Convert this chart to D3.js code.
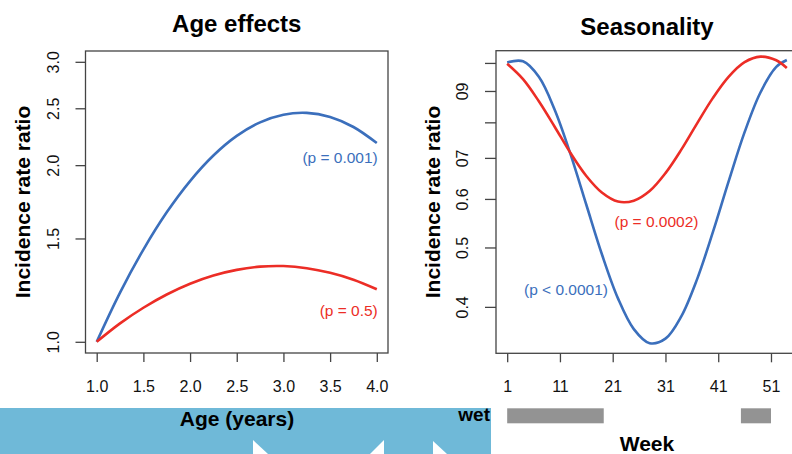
<!DOCTYPE html>
<html><head><meta charset="utf-8">
<script src="https://cdn.jsdelivr.net/npm/d3@7"></script>
<style>
body{margin:0;background:#fff;}
svg{display:block;font-family:"Liberation Sans",Arial,Helvetica,sans-serif;}
</style></head>
<body>
<svg id="chart" width="792" height="454"></svg>
<script>
// ---- data ----
const ageYears = [1.0,1.25,1.5,1.75,2.0,2.25,2.5,2.75,3.0,3.25,3.5,3.75,4.0];
const ageIRR_blue = [1.000,1.213,1.436,1.662,1.879,2.077,2.243,2.366,2.438,2.455,2.416,2.323,2.181];
const ageIRR_red  = [1.000,1.075,1.143,1.204,1.256,1.297,1.326,1.343,1.346,1.335,1.311,1.276,1.229];
const ageXTicks = [1.0,1.5,2.0,2.5,3.0,3.5,4.0];
const ageXTickLabels = ["1.0","1.5","2.0","2.5","3.0","3.5","4.0"];
const ageYTicks = [1.0,1.5,2.0,2.5,3.0];
const ageYTickLabels = ["1.0","1.5","2.0","2.5","3.0"];

const weeks = [1,4,7,10,13,16,19,22,25,28,31,34,37,40,43,46,49,52,54];
const seasIRR_blue = [1.002,1.006,0.949,0.839,0.710,0.587,0.486,0.413,0.368,0.349,0.355,0.386,0.444,0.530,0.642,0.771,0.895,0.985,1.011];
const seasIRR_red  = [0.997,0.941,0.866,0.787,0.713,0.654,0.614,0.594,0.596,0.618,0.661,0.722,0.797,0.877,0.950,1.003,1.024,1.010,0.981];
const weekXTicks = [1,11,21,31,41,51];
const weekXTickLabels = ["1","11","21","31","41","51"];
const seasYTicks = [0.4,0.5,0.6,0.7,0.8,0.9,1.0];
const seasYTickLabels = ["0.4","0.5","0.6","07","","09",""];
const wetSeasons = [[1,19.3],[45.3,51]];

const titles = ["Age effects","Seasonality"];
const yLabel = "Incidence rate ratio";
const pLabelsAge = ["(p = 0.001)","(p = 0.5)"];
const pLabelsSeas = ["(p < 0.0001)","(p = 0.0002)"];

// ---- styling ----
const BLUE = "#3b6fbc", RED = "#ec2d26", AXIS = "#444";
const svg = d3.select("#chart");

// bottom decorative band
svg.append("rect").attr("x",0).attr("y",408).attr("width",491).attr("height",46).attr("fill","#6fb9d8");
svg.append("path").attr("d","M253,440 L268,454 L253,454 Z").attr("fill","#fff");
svg.append("path").attr("d","M384,440 L384,454 L370,454 Z").attr("fill","#fff");
svg.append("path").attr("d","M433,441 L447,454 L433,454 Z").attr("fill","#fff");

function panel(opts){
  const g = svg.append("g");
  const x = opts.x, y = opts.y;
  const [x0,x1] = x.range(), [y0,y1] = y.range();
  const ax = g.append("g").attr("transform",`translate(0,${y0})`)
    .call(d3.axisBottom(x).tickValues(opts.xTicks).tickFormat((d,i)=>opts.xLabels[i]).tickSize(9).tickSizeOuter(0));
  ax.select(".domain").remove();
  ax.selectAll("line").attr("stroke",AXIS).attr("stroke-width",1.3);
  ax.selectAll("text").attr("y",33).attr("dy","0.35em").attr("font-size",16).attr("fill","#111")
    .attr("font-family","Liberation Sans, Arial, sans-serif");
  const ay = g.append("g").attr("transform",`translate(${x0},0)`)
    .call(d3.axisLeft(y).tickValues(opts.yTicks).tickFormat((d,i)=>opts.yLabels[i]).tickSize(opts.yTickLen).tickSizeOuter(0));
  ay.select(".domain").remove();
  ay.selectAll("line").attr("stroke",AXIS).attr("stroke-width",1.3);
  ay.selectAll("text").attr("x",0).attr("y",-opts.yLabOff).attr("dy",0).attr("dominant-baseline","central")
    .attr("text-anchor","middle").attr("transform","rotate(-90)").attr("font-size",16).attr("fill","#111")
    .attr("font-family","Liberation Sans, Arial, sans-serif");
  g.append("rect").attr("x",x0).attr("y",y1).attr("width",x1-x0).attr("height",y0-y1)
    .attr("fill","none").attr("stroke",AXIS).attr("stroke-width",1.3);
  const cid = "clip"+opts.id;
  svg.append("clipPath").attr("id",cid).append("rect").attr("x",x0).attr("y",y1).attr("width",x1-x0).attr("height",y0-y1);
  const line = d3.line().x(d=>x(d[0])).y(d=>y(d[1])).curve(d3.curveCatmullRom.alpha(0.5));
  opts.series.forEach(s=>{
    g.append("path").attr("d",line(opts.xs.map((v,i)=>[v,s.vals[i]])))
      .attr("fill","none").attr("stroke",s.color).attr("stroke-width",2.6).attr("clip-path",`url(#${cid})`);
  });
  g.append("text").attr("x",(x0+x1)/2).attr("y",opts.titleY).attr("text-anchor","middle")
    .attr("font-size",24).attr("font-weight","bold").attr("fill","#000").text(opts.title);
  g.append("text").attr("transform",`translate(${opts.yLabX},${(y0+y1)/2}) rotate(-90)`)
    .attr("text-anchor","middle").attr("dominant-baseline","central")
    .attr("font-size",21).attr("font-weight","bold").attr("fill","#000").text(yLabel);
  return g;
}

// Age panel
const xAge = d3.scaleLinear().domain([0.88,4.12]).range([85.5,388]);
const yAge = d3.scaleLog().domain([0.957,3.13]).range([353,51]);
const gA = panel({id:"A",x:xAge,y:yAge,xTicks:ageXTicks,xLabels:ageXTickLabels,yTicks:ageYTicks,yLabels:ageYTickLabels,
  yTickLen:10,yLabOff:32.5,xs:ageYears,series:[{vals:ageIRR_blue,color:BLUE},{vals:ageIRR_red,color:RED}],
  title:titles[0],titleY:32,yLabX:22});
gA.append("text").attr("x",xAge(4.0)+1).attr("y",163).attr("text-anchor","end").attr("font-size",15.5).attr("fill",BLUE).text(pLabelsAge[0]);
gA.append("text").attr("x",xAge(4.0)+1).attr("y",316).attr("text-anchor","end").attr("font-size",15.5).attr("fill",RED).text(pLabelsAge[1]);
gA.append("text").attr("x",237).attr("y",426).attr("text-anchor","middle").attr("font-size",21).attr("font-weight","bold").attr("fill","#000").text("Age (years)");

// Seasonality panel
const xWk = d3.scaleLinear().domain([-1.12,56.12]).range([496,798]);
const yWk = d3.scaleLog().domain([0.336,1.047]).range([353.3,50.7]);
const gS = panel({id:"S",x:xWk,y:yWk,xTicks:weekXTicks,xLabels:weekXTickLabels,yTicks:seasYTicks,yLabels:seasYTickLabels,
  yTickLen:11,yLabOff:34,xs:weeks,series:[{vals:seasIRR_blue,color:BLUE},{vals:seasIRR_red,color:RED}],
  title:titles[1],titleY:35,yLabX:432});
gS.append("text").attr("x",566).attr("y",295).attr("text-anchor","middle").attr("font-size",15.5).attr("fill",BLUE).text(pLabelsSeas[0]);
gS.append("text").attr("x",656.5).attr("y",227).attr("text-anchor","middle").attr("font-size",15.5).attr("fill",RED).text(pLabelsSeas[1]);

gS.selectAll("rect.wet").data(wetSeasons).enter().append("rect").attr("class","wet")
  .attr("x",d=>xWk(d[0])).attr("width",d=>xWk(d[1])-xWk(d[0])).attr("y",408.3).attr("height",15).attr("fill","#939393");
svg.append("text").attr("x",490).attr("y",421).attr("text-anchor","end").attr("font-size",19).attr("font-weight","bold").attr("fill","#000").text("wet");
svg.append("text").attr("x",647).attr("y",451).attr("text-anchor","middle").attr("font-size",21).attr("font-weight","bold").attr("fill","#000").text("Week");
</script>
</body></html>
